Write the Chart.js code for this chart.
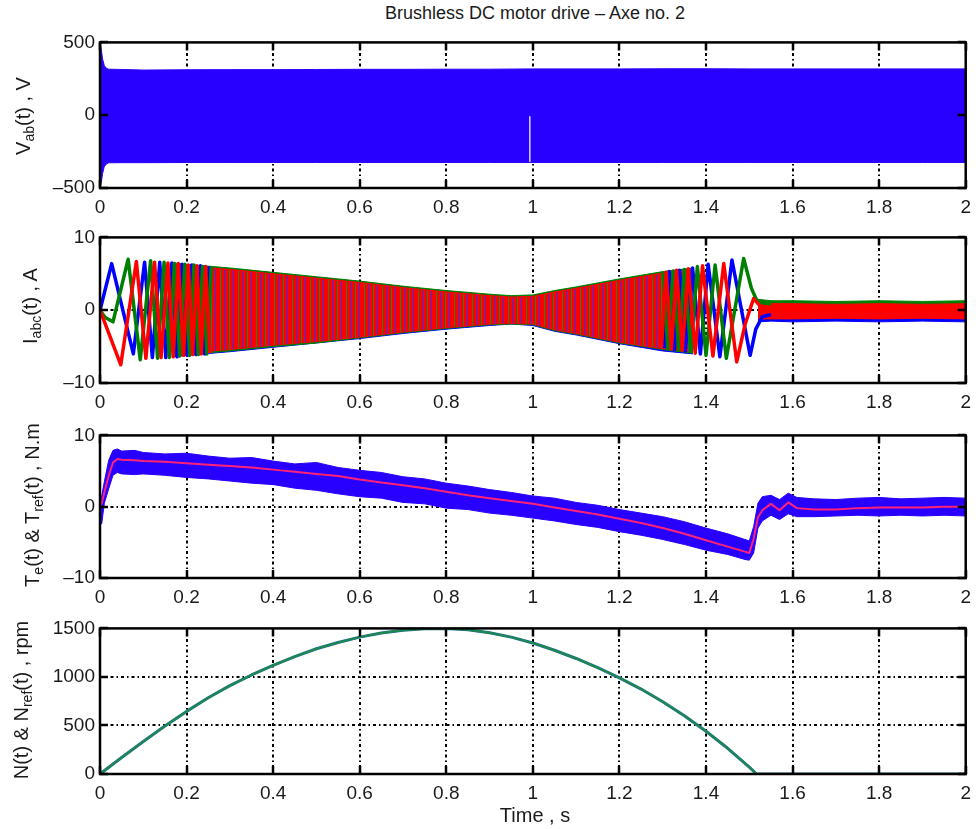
<!DOCTYPE html>
<html>
<head>
<meta charset="utf-8">
<script src="https://cdn.jsdelivr.net/npm/chart.js@4.4.1/dist/chart.umd.min.js"></script>
<style>
  body { margin: 0; background: #fff; }
  #page { position: relative; width: 979px; height: 829px; font-family: 'Liberation Sans', Arial, sans-serif; color: #1a1a1a; }
  canvas { position: absolute; left: 0; }
  .ylab { position: absolute; font-size: 20px; line-height: 1; white-space: nowrap; transform: translate(-50%, -50%) rotate(-90deg); }
  .ylab sub { font-size: 14px; vertical-align: -4px; line-height: 0; }
  #title { position: absolute; top: 3px; left: 535px; transform: translateX(-50%); font-size: 18px; white-space: nowrap; }
  #xlab { position: absolute; top: 804px; left: 535px; transform: translateX(-50%); font-size: 20px; white-space: nowrap; }
</style>
</head>
<body>
<div id="page">
  <div id="title">Brushless DC motor drive – Axe no. 2</div>
  <canvas id="c1" width="979" height="202" style="top:26px"></canvas>
  <canvas id="c2" width="979" height="202" style="top:221px"></canvas>
  <canvas id="c3" width="979" height="199" style="top:419px"></canvas>
  <canvas id="c4" width="979" height="202" style="top:612px"></canvas>
  <div class="ylab" style="left:23px; top:116px">V<sub>ab</sub>(t) , V</div>
  <div class="ylab" style="left:30px; top:306px">I<sub>abc</sub>(t) , A</div>
  <div class="ylab" style="left:32px; top:505px">T<sub>e</sub>(t) &amp; T<sub>ref</sub>(t) , N.m</div>
  <div class="ylab" style="left:21px; top:700px">N(t) &amp; N<sub>ref</sub>(t) , rpm</div>
  <div id="xlab">Time , s</div>
</div>
<script>
// tick values
const timeTicks = [0, 0.2, 0.4, 0.6, 0.8, 1, 1.2, 1.4, 1.6, 1.8, 2];
const vabTicks = [-500, 0, 500];
const iTicks = [-10, 0, 10];
const teTicks = [-10, 0, 10];
const nTicks = [0, 500, 1000, 1500];

// Vab(t): PWM voltage, drawn as its envelope band
const tVab = [0, 0.003, 0.006, 0.01, 0.015, 0.02, 0.05, 0.1, 0.2, 0.3, 0.4, 0.5, 0.6, 0.7, 0.8, 0.9, 1.0, 1.1, 1.2, 1.3, 1.4, 1.5, 1.6, 1.7, 1.8, 1.9, 2.0];
const vabUpper = [500, 450, 385, 340, 322, 316, 314, 310, 312, 313, 313, 314, 315, 315, 316, 316, 318, 318, 318, 319, 319, 318, 318, 318, 318, 318, 318];
const vabLower = [-500, -460, -400, -352, -335, -327, -326, -326, -325, -325, -325, -325, -325, -325, -325, -325, -325, -325, -325, -325, -325, -325, -325, -325, -325, -325, -325];
const tVabGap = [0.993, 0.993];
const vabGap = [-10, -318];

// phase currents, start-up cycles (a = blue, b = green, c = red)
const tIaEarly = [0, 0.027, 0.077, 0.103, 0.121, 0.138, 0.152, 0.166, 0.178, 0.190, 0.201, 0.212, 0.222, 0.232, 0.242, 0.252];
const iaEarly = [0, 6.4, -6.0, 6.6, -6.5, 6.6, -6.5, 6.5, -6.4, 6.3, -6.2, 6.2, -6.1, 6.1, -6.0, 6.0];
const tIbEarly = [0, 0.012, 0.03, 0.065, 0.093, 0.117, 0.133, 0.148, 0.160, 0.172, 0.184, 0.196, 0.207, 0.217, 0.227, 0.237, 0.247, 0.257];
const ibEarly = [0, -1.0, -1.6, 7.0, -6.8, 6.8, -6.6, 6.6, -6.5, 6.4, -6.3, 6.3, -6.2, 6.2, -6.1, 6.0, -6.0, 5.9];
const tIcEarly = [0, 0.048, 0.084, 0.106, 0.126, 0.141, 0.157, 0.169, 0.181, 0.193, 0.204, 0.214, 0.224, 0.234, 0.244, 0.254];
const icEarly = [0, -7.5, 6.7, -6.6, 6.6, -6.5, 6.5, -6.4, 6.4, -6.2, 6.2, -6.1, 6.1, -6.0, 6.0, -5.9];

// phase currents, dense middle part as envelopes
const tIband = [0.17, 0.2, 0.3, 0.4, 0.5, 0.6, 0.7, 0.8, 0.9, 0.95, 1.0, 1.05, 1.1, 1.2, 1.3, 1.37];
const iaBandUp = [6.4, 6.2, 5.7, 5.1, 4.5, 3.9, 3.2, 2.6, 2.1, 1.9, 2.0, 2.6, 3.1, 4.2, 5.2, 5.7];
const iaBandLo = [-6.4, -6.2, -5.7, -5.1, -4.5, -3.9, -3.2, -2.6, -2.1, -1.9, -2.1, -2.9, -3.4, -4.6, -5.6, -6.0];
const ibBandUp = [6.5, 6.3, 5.8, 5.2, 4.6, 4.0, 3.3, 2.7, 2.2, 2.0, 2.1, 2.7, 3.2, 4.3, 5.3, 5.8];
const ibBandLo = [-6.3, -6.1, -5.6, -5.0, -4.5, -3.8, -3.1, -2.5, -2.0, -1.9, -2.0, -2.8, -3.3, -4.5, -5.4, -5.9];
const icBandUp = [6.3, 6.1, 5.6, 5.0, 4.4, 3.8, 3.1, 2.5, 2.0, 1.8, 1.9, 2.5, 3.0, 4.1, 5.1, 5.6];
const icBandLo = [-6.1, -5.9, -5.4, -4.8, -4.3, -3.7, -3.0, -2.4, -1.9, -1.8, -1.9, -2.7, -3.2, -4.4, -5.3, -5.7];

// phase currents, braking cycles
const tIaLate = [1.304, 1.315, 1.327, 1.339, 1.352, 1.369, 1.387, 1.405, 1.432, 1.460, 1.502, 1.515, 1.53, 1.55];
const iaLate = [-5.2, 5.3, -5.4, 5.5, -5.6, 5.8, -6.0, 6.3, -6.4, 6.9, -6.2, -2.6, -0.9, -0.6];
const tIbLate = [1.301, 1.312, 1.324, 1.337, 1.350, 1.365, 1.380, 1.400, 1.421, 1.447, 1.487, 1.505, 1.52, 1.55];
const ibLate = [5.2, -5.3, 5.4, -5.5, 5.6, -5.7, 6.0, -6.2, 6.2, -6.6, 7.1, 3.0, 1.0, 0.9];
const tIcLate = [1.297, 1.308, 1.320, 1.332, 1.345, 1.359, 1.375, 1.392, 1.416, 1.441, 1.471, 1.49, 1.51, 1.525, 1.54, 1.56];
const icLate = [-5.1, 5.2, -5.3, 5.5, -5.5, 5.7, -5.9, 6.1, -6.3, 6.4, -7.1, -2.0, 1.6, 0.6, 0.4, 0.2];

// phase currents at standstill
const tIend = [1.52, 1.55, 1.6, 1.7, 1.8, 1.9, 2.0];
const iaEndUp = [-0.8, -0.8, -0.8, -0.8, -0.8, -0.8, -0.8];
const iaEndLo = [-1.6, -1.5, -1.6, -1.5, -1.6, -1.5, -1.6];
const ibEndUp = [1.5, 1.3, 1.3, 1.2, 1.3, 1.2, 1.3];
const ibEndLo = [0.6, 0.6, 0.6, 0.6, 0.6, 0.6, 0.6];
const icEndUp = [1.0, 0.9, 0.9, 0.8, 0.9, 0.8, 0.9];
const icEndLo = [-1.2, -1.2, -1.2, -1.1, -1.2, -1.1, -1.2];

// torque: Te band and Tref
const tTe = [0, 0.004, 0.01, 0.02, 0.03, 0.04, 0.05, 0.08, 0.1, 0.15, 0.2, 0.25, 0.3, 0.35, 0.4, 0.45, 0.5, 0.55, 0.6, 0.65, 0.7, 0.75, 0.8, 0.85, 0.9, 0.95, 1.0, 1.05, 1.1, 1.15, 1.2, 1.25, 1.3, 1.35, 1.4, 1.45, 1.49, 1.5, 1.51, 1.52, 1.53, 1.55, 1.57, 1.59, 1.61, 1.65, 1.7, 1.75, 1.8, 1.85, 1.9, 1.95, 2.0];
const teUpper = [0.5, 1.5, 3.5, 6.5, 7.9, 8.1, 7.8, 7.9, 7.6, 7.4, 7.5, 7.1, 6.8, 6.9, 6.4, 6.0, 6.2, 5.5, 5.1, 4.8, 4.2, 3.9, 3.3, 2.9, 2.4, 2.0, 1.5, 1.2, 0.6, 0.2, -0.4, -0.9, -1.4, -2.1, -3.0, -3.8, -4.6, -4.8, -2.8, 0.5, 1.4, 1.6, 1.0, 1.9, 1.3, 1.1, 1.0, 1.2, 1.3, 1.1, 1.2, 1.3, 1.2];
const teLower = [-2.5, -2.4, 0.5, 2.5, 4.4, 4.8, 4.6, 4.5, 4.6, 4.4, 4.1, 3.9, 3.6, 3.3, 3.1, 2.6, 2.3, 1.8, 1.4, 1.2, 0.6, 0.4, -0.2, -0.4, -0.9, -1.2, -1.6, -2.0, -2.5, -2.9, -3.5, -4.0, -4.6, -5.3, -6.1, -6.7, -7.4, -7.5, -6.5, -3.0, -2.0, -1.2, -1.8, -1.0, -1.4, -1.4, -1.3, -1.2, -1.3, -1.2, -1.3, -1.2, -1.3];
const tref = [0, 0.5, 2.0, 4.3, 6.2, 6.7, 6.6, 6.5, 6.4, 6.3, 6.1, 5.9, 5.7, 5.5, 5.2, 4.9, 4.6, 4.3, 3.8, 3.4, 3.0, 2.6, 2.1, 1.6, 1.2, 0.8, 0.4, -0.1, -0.6, -1.1, -1.7, -2.3, -3.0, -3.8, -4.7, -5.6, -6.3, -6.5, -4.5, -1.5, -0.5, 0.4, -0.5, 0.6, -0.2, -0.4, -0.4, -0.2, -0.1, -0.1, -0.1, 0, 0];

// speed
const tN = [0, 0.05, 0.1, 0.15, 0.2, 0.25, 0.3, 0.35, 0.4, 0.45, 0.5, 0.55, 0.6, 0.65, 0.7, 0.75, 0.8, 0.85, 0.9, 0.95, 1.0, 1.05, 1.1, 1.15, 1.2, 1.25, 1.3, 1.35, 1.4, 1.45, 1.5, 1.517, 1.6, 1.8, 2.0];
const speed = [0, 170, 335, 495, 645, 785, 910, 1020, 1120, 1210, 1290, 1355, 1410, 1453, 1482, 1497, 1498, 1485, 1455, 1410, 1350, 1275, 1190, 1095, 990, 875, 745, 600, 440, 265, 70, 0, 0, 0, 0];
const speedRef = speed;

const pts = (t, v) => t.map((x, i) => ({ x, y: v[i] }));
const fontTick = { family: "'Liberation Sans', Arial, sans-serif", size: 19 };

function line(t, v, color, width, order) {
    return { data: pts(t, v), borderColor: color, borderWidth: width, borderJoinStyle: 'round', fill: false, order };
}
// upper edge filled down to the lower edge (next dataset)
function band(t, up, lo, color, order, fillColor) {
    return [
        { data: pts(t, up), borderColor: color, borderWidth: 1, backgroundColor: fillColor || color, fill: '+1', order },
        { data: pts(t, lo), borderColor: color, borderWidth: 1, fill: false, order }
    ];
}

function stripes() {
    const c = document.createElement('canvas');
    c.width = 9; c.height = 4;
    const g = c.getContext('2d');
    ['#ff0000', '#ff0000', '#ff0000', '#ff0000', '#1a8a1a', '#ff0000', '#ff0000', '#ff0000', '#3030ff'].forEach((col, i) => {
        g.fillStyle = col;
        g.fillRect(i, 0, 1, 4);
    });
    return g.createPattern(c, 'repeat');
}

// MATLAB-like frame: dotted grid, box, inward ticks
const frame = {
    id: 'frame',
    beforeDatasetsDraw(chart) {
        const { ctx, chartArea: a, scales: { x, y } } = chart;
        ctx.save();
        ctx.strokeStyle = '#000';
        ctx.lineWidth = 2;
        ctx.setLineDash([3, 3, 1.5, 3]);
        ctx.beginPath();
        x.ticks.forEach(t => {
            const p = Math.round(x.getPixelForValue(t.value));
            if (p > a.left + 3 && p < a.right - 3) { ctx.moveTo(p, a.top); ctx.lineTo(p, a.bottom); }
        });
        y.ticks.forEach(t => {
            const p = Math.round(y.getPixelForValue(t.value));
            if (p > a.top + 3 && p < a.bottom - 3) { ctx.moveTo(a.left, p); ctx.lineTo(a.right, p); }
        });
        ctx.stroke();
        ctx.restore();
    },
    afterDatasetsDraw(chart) {
        const { ctx, chartArea: a, scales: { x, y } } = chart;
        ctx.save();
        ctx.strokeStyle = '#000';
        ctx.lineWidth = 2.5;
        ctx.strokeRect(a.left, a.top, a.width, a.height);
        ctx.beginPath();
        x.ticks.forEach(t => {
            const p = Math.round(x.getPixelForValue(t.value));
            ctx.moveTo(p, a.top); ctx.lineTo(p, a.top + 8);
            ctx.moveTo(p, a.bottom); ctx.lineTo(p, a.bottom - 8);
        });
        y.ticks.forEach(t => {
            const p = Math.round(y.getPixelForValue(t.value));
            ctx.moveTo(a.left, p); ctx.lineTo(a.left + 8, p);
            ctx.moveTo(a.right, p); ctx.lineTo(a.right - 8, p);
        });
        ctx.stroke();
        ctx.restore();
    }
};

const fmt = v => (v < 0 ? '\u2013' : '') + String(Math.round(Math.abs(v) * 10) / 10);

function panel(id, yMin, yMax, yTicks, datasets) {
    return new Chart(document.getElementById(id), {
        type: 'line',
        data: { datasets },
        options: {
            responsive: false,
            animation: false,
            events: [],
            layout: { padding: { left: 40, right: 9, top: 14, bottom: 0 } },
            plugins: { legend: { display: false }, tooltip: { enabled: false } },
            elements: { point: { radius: 0 }, line: { tension: 0 } },
            scales: {
                x: {
                    type: 'linear', min: 0, max: 2,
                    afterBuildTicks: s => { s.ticks = timeTicks.map(v => ({ value: v })); },
                    afterFit: s => { s.height = 40; },
                    grid: { display: false, drawTicks: false },
                    border: { display: false },
                    ticks: { padding: 8, font: fontTick, color: '#1a1a1a', autoSkip: false, maxRotation: 0, callback: fmt }
                },
                y: {
                    type: 'linear', min: yMin, max: yMax,
                    afterBuildTicks: s => { s.ticks = yTicks.map(v => ({ value: v })); },
                    afterFit: s => { s.width = 60; },
                    grid: { display: false, drawTicks: false },
                    border: { display: false },
                    ticks: { padding: 5, font: fontTick, color: '#1a1a1a', callback: fmt }
                }
            }
        },
        plugins: [frame]
    });
}

const blue = '#2800ff';

panel('c1', -500, 500, vabTicks, [
    ...band(tVab, vabUpper, vabLower, blue, 5),
    line(tVabGap, vabGap, '#d8d4ff', 1.5, 1)
]);

panel('c2', -10, 10, iTicks, [
    ...band(tIband, iaBandUp, iaBandLo, '#0000ff', 12),
    ...band(tIband, ibBandUp, ibBandLo, '#008000', 11),
    ...band(tIband, icBandUp, icBandLo, '#ff0000', 10, stripes()),
    ...band(tIend, iaEndUp, iaEndLo, '#0000ff', 9),
    ...band(tIend, ibEndUp, ibEndLo, '#008000', 8),
    ...band(tIend, icEndUp, icEndLo, '#ff0000', 7),
    line(tIaEarly, iaEarly, '#0000ff', 3.5, 6),
    line(tIaLate, iaLate, '#0000ff', 3.5, 6),
    line(tIbEarly, ibEarly, '#008000', 3.5, 5),
    line(tIbLate, ibLate, '#008000', 3.5, 5),
    line(tIcEarly, icEarly, '#ff0000', 3.5, 4),
    line(tIcLate, icLate, '#ff0000', 3.5, 4)
]);

panel('c3', -10, 10, teTicks, [
    ...band(tTe, teUpper, teLower, blue, 5),
    line(tTe, tref, '#ff2277', 2, 1)
]);

panel('c4', 0, 1500, nTicks, [
    line(tN, speed, '#1f6aa0', 3, 2),
    line(tN, speedRef, '#1e8a4a', 2, 1)
]);
</script>
</body>
</html>
